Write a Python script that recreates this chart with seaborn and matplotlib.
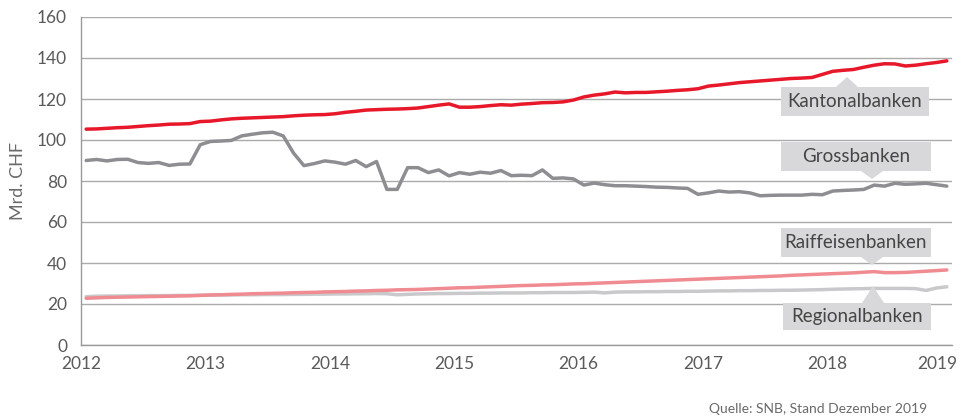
import matplotlib
matplotlib.use("Agg")
import matplotlib.pyplot as plt
import matplotlib.transforms as mtransforms
import numpy as np
import pandas as pd
import seaborn as sns
from matplotlib.patches import Rectangle, Polygon

# monthly values, Jan 2012 - Dec 2018 (Mrd. CHF)
kantonalbanken = [
    105.3, 105.4, 105.7, 106.0, 106.2, 106.6, 107.0, 107.3, 107.7, 107.8, 108.0, 109.0,
    109.2, 109.8, 110.3, 110.6, 110.8, 111.0, 111.2, 111.4, 111.8, 112.1, 112.3, 112.4,
    112.8, 113.5, 114.0, 114.6, 114.8, 115.0, 115.1, 115.3, 115.6, 116.3, 117.0, 117.6,
    116.0, 116.0, 116.3, 116.8, 117.2, 117.0, 117.5, 117.8, 118.2, 118.3, 118.6, 119.5,
    121.0, 121.9, 122.5, 123.4, 123.0, 123.2, 123.2, 123.5, 123.8, 124.2, 124.5, 125.0,
    126.3, 126.8, 127.4, 128.0, 128.4, 128.8, 129.2, 129.6, 130.0, 130.2, 130.5, 132.0,
    133.5, 134.0, 134.4, 135.5, 136.5, 137.2, 137.1, 136.1, 136.5, 137.2, 137.8, 138.6,
]
grossbanken = [
    90.0, 90.5, 89.8, 90.5, 90.6, 89.0, 88.6, 89.0, 87.6, 88.2, 88.3, 97.7,
    99.3, 99.5, 99.8, 102.0, 102.8, 103.5, 103.8, 102.0, 93.6, 87.5, 88.5, 89.8,
    89.2, 88.2, 90.0, 87.0, 89.5, 75.9, 75.9, 86.5, 86.5, 84.1, 85.4, 82.5,
    84.1, 83.3, 84.3, 83.8, 85.1, 82.6, 82.8, 82.6, 85.4, 81.3, 81.5, 81.0,
    78.0, 79.0, 78.2, 77.7, 77.7, 77.5, 77.3, 77.0, 76.9, 76.6, 76.4, 73.5,
    74.2, 75.1, 74.6, 74.8, 74.2, 72.8, 73.0, 73.1, 73.1, 73.1, 73.5, 73.3,
    75.1, 75.4, 75.6, 75.9, 78.0, 77.5, 78.9, 78.4, 78.6, 78.9, 78.2, 77.5,
]
raiffeisenbanken = [
    22.8, 23.0, 23.2, 23.3, 23.4, 23.5, 23.6, 23.7, 23.8, 23.9, 24.0, 24.2,
    24.4, 24.5, 24.7, 24.8, 25.0, 25.1, 25.2, 25.3, 25.5, 25.6, 25.7, 25.9,
    26.0, 26.1, 26.3, 26.4, 26.6, 26.7, 26.9, 27.0, 27.1, 27.3, 27.5, 27.7,
    27.9, 28.0, 28.2, 28.4, 28.6, 28.8, 29.0, 29.1, 29.3, 29.4, 29.6, 29.8,
    29.9, 30.1, 30.3, 30.5, 30.7, 30.9, 31.1, 31.3, 31.5, 31.7, 31.9, 32.1,
    32.3, 32.5, 32.7, 32.9, 33.1, 33.3, 33.5, 33.7, 34.0, 34.2, 34.4, 34.6,
    34.8, 35.0, 35.2, 35.5, 35.8, 35.3, 35.3, 35.4, 35.7, 36.0, 36.3, 36.6,
]
regionalbanken = [
    23.6, 23.8, 23.9, 23.9, 24.0, 24.0, 24.1, 24.1, 24.1, 24.2, 24.2, 24.3,
    24.3, 24.4, 24.4, 24.5, 24.5, 24.6, 24.6, 24.6, 24.7, 24.7, 24.8, 24.8,
    24.9, 24.9, 25.0, 25.0, 25.1, 25.0, 24.5, 24.7, 24.9, 25.0, 25.1, 25.1,
    25.2, 25.2, 25.3, 25.3, 25.4, 25.4, 25.4, 25.5, 25.5, 25.6, 25.6, 25.6,
    25.7, 25.8, 25.4, 25.8, 25.9, 25.9, 26.0, 26.0, 26.1, 26.1, 26.2, 26.2,
    26.3, 26.4, 26.4, 26.5, 26.5, 26.6, 26.6, 26.7, 26.7, 26.8, 26.9, 27.0,
    27.2, 27.3, 27.4, 27.5, 27.6, 27.6, 27.6, 27.6, 27.5, 26.6, 27.8, 28.4,
]
year_ticks = [2012, 2013, 2014, 2015, 2016, 2017, 2018, 2019]
series = {
    "Regionalbanken": regionalbanken,
    "Raiffeisenbanken": raiffeisenbanken,
    "Grossbanken": grossbanken,
    "Kantonalbanken": kantonalbanken,
}
colors = {
    "Regionalbanken": "#c9c9cb",
    "Raiffeisenbanken": "#ef8b91",
    "Grossbanken": "#8e8e92",
    "Kantonalbanken": "#e8182b",
}

months = 2012 + (np.arange(84) + 0.5) / 12
df = pd.DataFrame(
    [(m, name, v) for name, vals in series.items() for m, v in zip(months, vals)],
    columns=["date", "bank", "value"],
)

sns.set_style("white")
plt.rcParams["font.family"] = ["Lato", "DejaVu Sans"]

W, H = 973, 418
fig = plt.figure(figsize=(W / 100, H / 100), dpi=100)
L, R, B, T = 81, 952, 345, 17
ax = fig.add_axes([L / W, 1 - B / H, (R - L) / W, (B - T) / H])

sns.lineplot(data=df, x="date", y="value", hue="bank", palette=colors,
             hue_order=list(series.keys()), linewidth=2.5, legend=False, ax=ax)

ax.set_xlim(2012, 2019)
ax.set_ylim(0, 160)
ax.set_yticks(range(0, 161, 20))
ax.set_xticks(year_ticks)
ax.set_xticklabels([str(y) for y in year_ticks])
ax.yaxis.grid(True, color="#ababab", linewidth=1)
ax.set_axisbelow(True)
for s in ["top", "right"]:
    ax.spines[s].set_visible(False)
for s in ["left", "bottom"]:
    ax.spines[s].set_color("#9a9a9a")
    ax.spines[s].set_linewidth(1)
ax.tick_params(axis="x", direction="in", length=5, color="#9a9a9a",
               labelsize=12.5, labelcolor="#5a5a5a", pad=8)
ax.tick_params(axis="y", direction="out", length=6, color="#9a9a9a",
               labelsize=12.5, labelcolor="#5a5a5a", pad=4)
ax.set_xlabel("")
ax.set_ylabel("Mrd. CHF", fontsize=13, color="#6a6a6a", labelpad=8)

# last year label sits inside the figure edge
last = ax.get_xticklabels()[-1]
last.set_transform(last.get_transform() + mtransforms.ScaledTranslation(-0.15, 0, fig.dpi_scale_trans))


def px(x, y):
    return (x - L) / (R - L), (B - y) / (B - T)


# callout boxes (pixel positions in the figure)
callouts = [
    ("Kantonalbanken", 781, 929, 87, 116, 847, 77, 87),
    ("Grossbanken", 781, 931, 142, 171, 872, 179, 171),
    ("Raiffeisenbanken", 781, 931, 228, 257, 872, 265, 257),
    ("Regionalbanken", 783, 931, 303, 330, 873, 286, 303),
]
for text, x0, x1, y0, y1, tx, ty, by in callouts:
    a0 = px(x0, y1)
    a1 = px(x1, y0)
    ax.add_patch(Rectangle(a0, a1[0] - a0[0], a1[1] - a0[1], transform=ax.transAxes,
                           facecolor="#d8d8da", edgecolor="none", zorder=5, clip_on=False))
    ax.add_patch(Polygon([px(tx - 11, by), px(tx + 11, by), px(tx, ty)], closed=True,
                         transform=ax.transAxes, facecolor="#d8d8da", edgecolor="none",
                         zorder=5, clip_on=False))
    cx, cy = px((x0 + x1) / 2, (y0 + y1) / 2)
    ax.text(cx, cy, text, transform=ax.transAxes, ha="center", va="center",
            fontsize=13.5, color="#454545", zorder=6)

fig.text(927 / W, 1 - 409 / H, "Quelle: SNB, Stand Dezember 2019", ha="right",
         va="center", fontsize=10, color="#6a6a6a")

fig.savefig("out.png", dpi=100)
